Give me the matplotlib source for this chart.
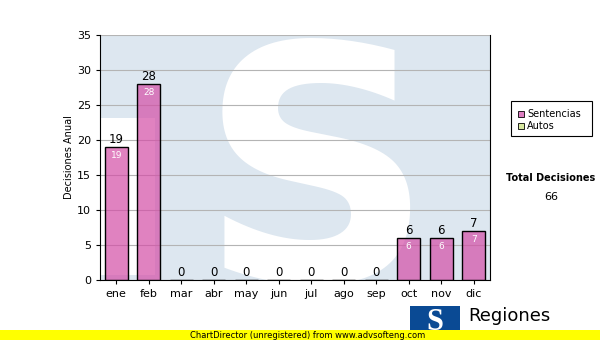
import matplotlib.pyplot as plt
from matplotlib.patches import Rectangle

# data
meses = ["ene", "feb", "mar", "abr", "may", "jun", "jul", "ago", "sep", "oct", "nov", "dic"]
sentencias = [19, 28, 0, 0, 0, 0, 0, 0, 0, 6, 6, 7]
autos = [0, 0, 0, 0, 0, 0, 0, 0, 0, 0, 0, 0]
total = 66

fig = plt.figure(figsize=(6, 3.4), dpi=100)
ax = fig.add_axes([100 / 600, 1 - 280 / 340, 390 / 600, 245 / 340])
ax.set_facecolor("#dde7f0")

# watermark: white block on the left and a big S
ax.add_patch(Rectangle((0, 0.02), 0.14, 0.64, transform=ax.transAxes,
                       facecolor="white", edgecolor="none", zorder=0))
ax.text(0.555, 0.0, "S", transform=ax.transAxes, fontsize=235, color="white",
        fontweight="bold", ha="center", va="baseline", zorder=0, clip_on=True)

x = range(len(meses))
ax.bar(x, sentencias, width=0.7, facecolor=(0.83, 0.30, 0.65, 0.7),
       edgecolor="black", linewidth=1, zorder=3)
for xi, v in zip(x, sentencias):
    ax.text(xi, v + 0.2, str(v), ha="center", va="bottom", fontsize=8.5, zorder=4)
    if v > 0:
        ax.text(xi, v - 0.6, str(v), ha="center", va="top", fontsize=6.5,
                color="white", zorder=4)

ax.set_ylim(0, 35)
ax.set_xlim(-0.5, 11.5)
ax.set_yticks(range(0, 36, 5))
ax.set_xticks(list(x))
ax.set_xticklabels(meses)
ax.tick_params(labelsize=8, length=3)
ax.yaxis.grid(True, color="#b4b4b4", linewidth=0.8, zorder=1)
ax.set_axisbelow(True)
ax.set_ylabel("Decisiones Anual", fontsize=7, labelpad=2)
for s in ["left", "bottom", "right"]:
    ax.spines[s].set_color("black")
ax.spines["top"].set_visible(False)

# legend
fig.patches.append(Rectangle((511 / 600, 1 - 136 / 340), 81 / 600, 35 / 340,
                             transform=fig.transFigure, facecolor="white",
                             edgecolor="black", linewidth=0.8))
fig.patches.append(Rectangle((518 / 600, 1 - 117 / 340), 6 / 600, 6 / 340,
                             transform=fig.transFigure, facecolor="#dc7cc0",
                             edgecolor="black", linewidth=0.6))
fig.patches.append(Rectangle((518 / 600, 1 - 129 / 340), 6 / 600, 6 / 340,
                             transform=fig.transFigure, facecolor="#d8e8a0",
                             edgecolor="black", linewidth=0.6))
fig.text(527 / 600, 1 - 114 / 340, "Sentencias", fontsize=7, va="center")
fig.text(527 / 600, 1 - 126 / 340, "Autos", fontsize=7, va="center")

fig.text(551 / 600, 1 - 178 / 340, "Total Decisiones", fontsize=7,
         fontweight="bold", ha="center", va="center")
fig.text(551 / 600, 1 - 197 / 340, str(total), fontsize=8, ha="center", va="center")

# logo
fig.patches.append(Rectangle((410 / 600, 1 - 334 / 340), 50 / 600, 28 / 340,
                             transform=fig.transFigure, facecolor="#0a4a94",
                             edgecolor="none"))
fig.text(435 / 600, 1 - 322 / 340, "S", fontsize=22, fontweight="bold",
         family="Liberation Serif", color="white", ha="center", va="center")
fig.text(468 / 600, 1 - 316 / 340, "Regiones", fontsize=13, ha="left", va="center")

# footer band
fig.patches.append(Rectangle((0, 0), 1, 10 / 340, transform=fig.transFigure,
                             facecolor="#ffff00", edgecolor="none", zorder=5))
fig.text(190 / 600, 5 / 340, "ChartDirector (unregistered) from www.advsofteng.com",
         fontsize=6, va="center", zorder=6)

fig.savefig("out.png", dpi=100)
